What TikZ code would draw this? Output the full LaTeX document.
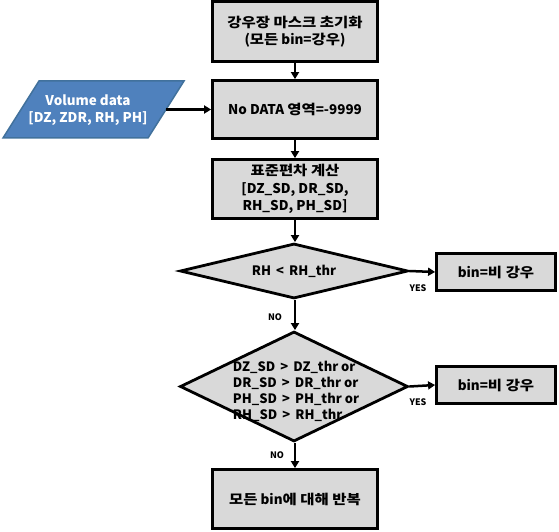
\documentclass[tikz,border=0pt]{standalone}
\usepackage{fontspec}
\setmainfont{Noto Sans CJK KR}
\newfontfamily\kr{Noto Sans CJK KR}[Scale=1.0,FakeStretch=1.15]
\usetikzlibrary{shapes.geometric,arrows.meta}
\definecolor{boxgray}{HTML}{D9D9D9}
\definecolor{paraBlue}{HTML}{4F81BD}
\definecolor{paraEdge}{HTML}{41719C}
\tikzset{
  procbox/.style={draw=black, line width=2.8bp, fill=boxgray, align=center, inner sep=0pt,
    font=\bfseries\fontsize{13.5}{17.5}\selectfont},
  decbox/.style={diamond, draw=black, line width=2.8bp, fill=boxgray, inner sep=0pt},
  dectext/.style={align=left, inner sep=0pt, font=\bfseries\fontsize{13}{16}\selectfont},
  flow/.style={line width=2.5bp, -{Triangle[length=7bp,width=8bp]}},
  yn/.style={font=\bfseries\fontsize{9}{10}\selectfont, inner sep=0pt}
}
\begin{document}
\begin{tikzpicture}[x=1bp,y=-1bp]
\useasboundingbox (0,0) rectangle (559,532);
\node[procbox, minimum width=165bp, minimum height=60bp] (b1) at (295,31.5) {{\kr 강우장 마스크 초기화}\\({\kr 모든} bin={\kr 강우})};
\node[procbox, minimum width=165bp, minimum height=58bp] (b2) at (295,109.5) {No DATA {\kr 영역}=-9999};
\path[fill=paraBlue, draw=paraEdge, line width=1.5bp] (3,138) -- (39,81) -- (184,81) -- (148,138) -- cycle;
\coordinate (inR) at (166,109.5);
\node[text=white, align=center, inner sep=0pt, font=\bfseries\fontsize{13.5}{17}\selectfont] (in) at (88,110.5) {Volume data\\{[}DZ, ZDR, RH, PH{]}};
\node[procbox, minimum width=165bp, minimum height=59bp] (b3) at (295,189) {{\kr 표준편차 계산}\\{[}DZ\_SD, DR\_SD,\\RH\_SD, PH\_SD{]}};
\node[decbox, minimum width=228bp, minimum height=55bp] (d1) at (294,271) {};
\node[dectext] (d1t) at (294,271) {RH \,<\, RH\_thr};
\node[procbox, minimum width=119bp, minimum height=37bp] (r1) at (496,272) {bin={\kr 비 강우}};
\node[decbox, minimum width=228bp, minimum height=110bp] (d2) at (294,386.5) {};
\node[dectext] (d2t) at (296,391) {DZ\_SD \,>\, DZ\_thr or\\DR\_SD \,>\, DR\_thr or\\PH\_SD \,>\, PH\_thr or\\RH\_SD \,>\, RH\_thr};
\node[procbox, minimum width=119bp, minimum height=37bp] (r2) at (496,385) {bin={\kr 비 강우}};
\node[procbox, minimum width=165bp, minimum height=59bp] (b5) at (295,499) {{\kr 모든} bin{\kr 에 대해 반복}};
\draw[flow] (b1.south) -- (b2.north);
\draw[flow] (inR) -- (b2.west);
\draw[flow] (b2.south) -- (b3.north);
\draw[flow] (b3.south) -- (b3.south |- d1.north);
\draw[flow] (d1.east) -- (r1.west);
\draw[flow] (d1.south -| b3.south) -- (b3.south |- d2.north);
\draw[flow] (d2.east) -- (r2.west);
\draw[flow] (d2.south -| b3.south) -- (b5.north);
\node[yn] (y1) at (418,288) {YES};
\node[yn] (y2) at (418,402) {YES};
\node[yn] (n1) at (275,317) {NO};
\node[yn] (n2) at (277,455) {NO};
\end{tikzpicture}
\end{document}
